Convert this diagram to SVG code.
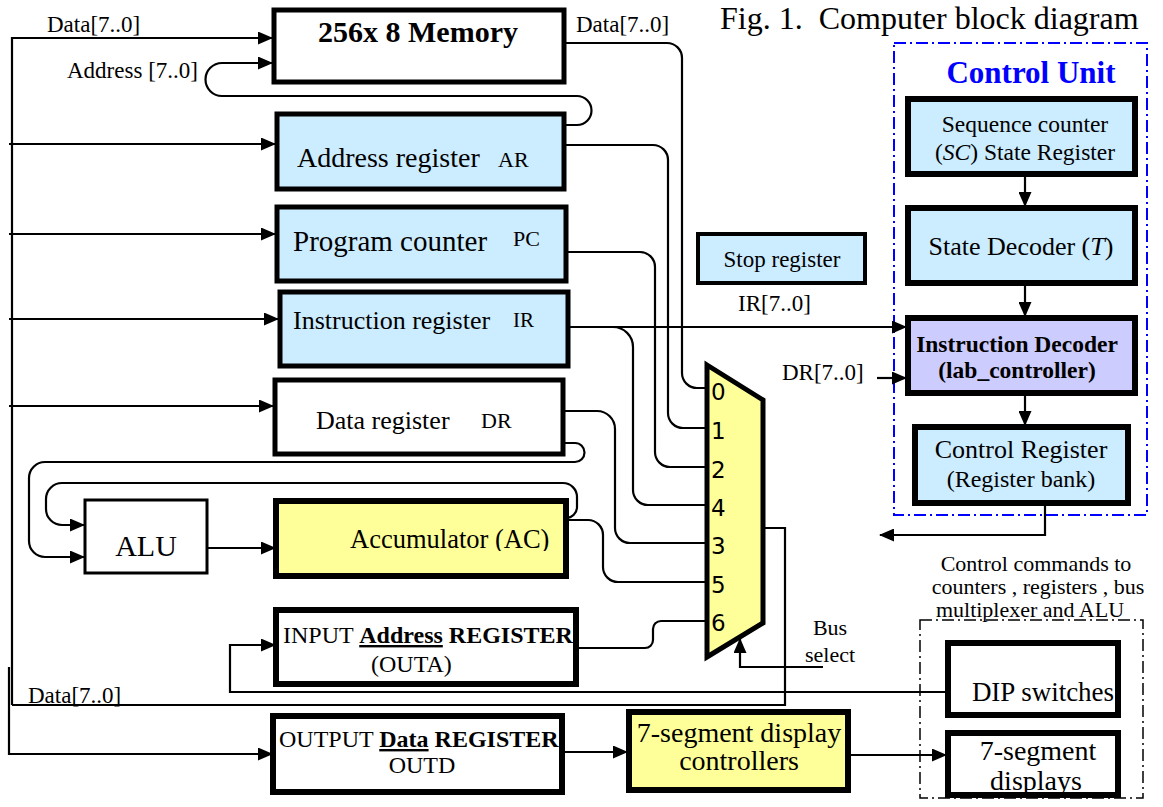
<svg xmlns="http://www.w3.org/2000/svg" width="1163" height="807" viewBox="0 0 1163 807">
  <defs>
    <marker id="arr" viewBox="0 0 15 13" refX="14" refY="6.5" markerWidth="15" markerHeight="13" markerUnits="userSpaceOnUse" orient="auto">
      <path d="M0,0 L15,6.5 L0,13 z" fill="#000"/>
    </marker>
    <clipPath id="irClip"><rect x="285" y="295" width="206" height="60"/></clipPath>
    <clipPath id="acClip"><rect x="280" y="505" width="282" height="46"/></clipPath>
  </defs>
  <style>
    text { font-family: "Liberation Serif", "Times New Roman", serif; fill: #000; }
    .box { stroke: #000; stroke-width: 5; }
    .thick { stroke-width: 6; }
    .blue { fill: #ccecff; }
    .yellow { fill: #ffff99; }
    .lav { fill: #ccccff; }
    .white { fill: #fff; }
    .wire { fill: none; stroke: #000; stroke-width: 2.2; }
    .arrow { marker-end: url(#arr); }
    .mid { text-anchor: middle; }
    .b { font-weight: bold; }
    .digit { font-family: "DejaVu Sans", sans-serif; font-size: 23px; }
  </style>

  <rect x="0" y="0" width="1163" height="807" fill="#fff"/>

  <!-- title -->
  <text x="720" y="29" font-size="32" style="white-space:pre">Fig. 1.  Computer block diagram</text>

  <!-- bus labels -->
  <g id="labels" font-size="23">
    <text x="47" y="32">Data[7..0]</text>
    <text x="67" y="78">Address [7..0]</text>
    <text x="576" y="32">Data[7..0]</text>
    <text x="738" y="311">IR[7..0]</text>
    <text x="782" y="380">DR[7..0]</text>
    <text x="28" y="703">Data[7..0]</text>
    <text x="830" y="635" class="mid" font-size="22">Bus</text>
    <text x="830" y="662" class="mid" font-size="22">select</text>
    <text x="1036" y="571" class="mid" font-size="22">Control commands to</text>
    <text x="1038" y="594" class="mid" font-size="22">counters , registers , bus</text>
    <text x="1030" y="617" class="mid" font-size="22">multiplexer and ALU</text>
  </g>

  <!-- control unit frame and external device frame -->
  <rect id="control-unit-frame" x="894" y="43" width="253" height="472" fill="none" stroke="#0000ff" stroke-width="2" stroke-dasharray="12 4 2 4"/>
  <text x="1031" y="83" class="mid b" font-size="31" style="fill:#0000ff">Control Unit</text>
  <rect id="io-frame" x="920" y="620" width="223" height="178" fill="none" stroke="#000" stroke-width="1.5" stroke-dasharray="12 4 2 4"/>

  <!-- connectors -->
  <g id="connectors" class="wire">
    <path class="arrow" d="M12,705 V38 H272"/>
    <path d="M763,528 H785 V705 H12"/>
    <path class="arrow" d="M9,144 H275"/>
    <path class="arrow" d="M9,234 H275"/>
    <path class="arrow" d="M9,319 H278"/>
    <path class="arrow" d="M9,406 H273"/>
    <path class="arrow" d="M563,125 H577 A14.5,14.5 0 0 0 577,96 H222 A16.5,16.5 0 0 1 222,63 H272"/>
    <path d="M564,43 H667 A15,15 0 0 1 682,58 V373 A15,15 0 0 0 697,388 H707"/>
    <path d="M564,145 H653 A15,15 0 0 1 668,160 V413 A15,15 0 0 0 683,428 H707"/>
    <path d="M566,252 H640 A15,15 0 0 1 655,267 V452 A15,15 0 0 0 670,467 H707"/>
    <path class="arrow" d="M560,327 H906"/>
    <path d="M613,327 A20,20 0 0 1 633,347 V490 A15,15 0 0 0 648,505 H707"/>
    <path d="M563,411 H597 A18,18 0 0 1 615,429 V528 A15,15 0 0 0 630,543 H707"/>
    <path d="M566,520 H588 A15,15 0 0 1 603,535 V567 A15,15 0 0 0 618,582 H707"/>
    <path d="M576,648 H645 A8,8 0 0 0 653,640 V629 A8,8 0 0 1 661,621 H707"/>
    <path class="arrow" d="M563,443 H575 A9.5,9.5 0 0 1 575,462 H45 A16,16 0 0 0 29,478 V541 A16,16 0 0 0 45,557 H84"/>
    <path class="arrow" d="M566,518 A11,11 0 0 0 577,507 V497 A14,14 0 0 0 563,483 H62 A16,16 0 0 0 46,499 V509 A16,16 0 0 0 62,525 H84"/>
    <path class="arrow" d="M207,548 H275"/>
    <path class="arrow" d="M948,692 H230 V645 H275"/>
    <path class="arrow" d="M823,667 H740 V639"/>
    <path class="arrow" d="M877,378 H906"/>
    <path class="arrow" d="M1025,176 V206"/>
    <path class="arrow" d="M1025,285 V316"/>
    <path class="arrow" d="M1025,395 V425"/>
    <path class="arrow" d="M1045,504 V535 H880"/>
    <path class="arrow" d="M9,667 V754 H272"/>
    <path class="arrow" d="M562,752 H627"/>
    <path class="arrow" d="M848,755 H946"/>
  </g>

  <!-- memory -->
  <g id="memory">
    <rect x="274" y="10" width="290" height="72" class="box white"/>
    <text x="418" y="42" class="mid b" font-size="30">256x 8 Memory</text>
  </g>

  <g id="address-register">
    <rect x="277" y="114" width="287" height="75" class="box blue"/>
    <text x="297" y="167" font-size="28">Address register</text>
    <text x="498" y="167" font-size="22">AR</text>
  </g>

  <g id="program-counter">
    <rect x="277" y="207" width="289" height="74" class="box blue"/>
    <text x="293" y="251" font-size="29">Program counter</text>
    <text x="513" y="246" font-size="22">PC</text>
  </g>

  <g id="instruction-register">
    <rect x="280" y="292" width="288" height="74" class="box blue"/>
    <text x="293" y="329" font-size="26" clip-path="url(#irClip)">Instruction register</text>
    <text x="513" y="327" font-size="21">IR</text>
  </g>

  <g id="data-register">
    <rect x="275" y="380" width="288" height="74" class="box white"/>
    <text x="316" y="429" font-size="26">Data register</text>
    <text x="481" y="428" font-size="22">DR</text>
  </g>

  <g id="stop-register">
    <rect x="698" y="234" width="167" height="49" class="box blue" style="stroke-width:4"/>
    <text x="782" y="267" class="mid" font-size="23">Stop register</text>
  </g>

  <g id="alu">
    <rect x="85" y="500" width="122" height="73" class="white" stroke="#000" stroke-width="3"/>
    <text x="146" y="556" class="mid" font-size="30">ALU</text>
  </g>

  <g id="accumulator">
    <rect x="276" y="501" width="290" height="75" class="box thick yellow"/>
    <text x="350" y="548" font-size="26.5" clip-path="url(#acClip)">Accumulator (AC)</text>
  </g>

  <g id="input-address-register">
    <rect x="276" y="610" width="300" height="74" class="box thick white"/>
    <text x="283" y="643" font-size="24">INPUT <tspan class="b" text-decoration="underline">Address</tspan><tspan class="b"> REGISTER</tspan></text>
    <text x="371" y="672" font-size="24">(OUTA)</text>
  </g>

  <g id="output-data-register">
    <rect x="273" y="716" width="289" height="76" class="box thick white"/>
    <text x="279" y="747" font-size="24">OUTPUT <tspan class="b" text-decoration="underline">Data</tspan><tspan class="b"> REGISTER</tspan></text>
    <text x="422" y="773" class="mid" font-size="24">OUTD</text>
  </g>

  <g id="seven-segment-controllers">
    <rect x="629" y="712" width="219" height="78" class="box thick yellow"/>
    <text x="739" y="742" class="mid" font-size="28">7-segment display</text>
    <text x="739" y="770" class="mid" font-size="28">controllers</text>
  </g>

  <!-- bus multiplexer -->
  <g id="bus-mux">
    <path d="M707,365 L763,400 L763,623 L707,657 Z" class="yellow" stroke="#000" stroke-width="5" stroke-linejoin="miter"/>
    <text x="711" y="400" class="digit">0</text>
    <text x="711" y="439" class="digit">1</text>
    <text x="711" y="478" class="digit">2</text>
    <text x="711" y="516" class="digit">4</text>
    <text x="711" y="554" class="digit">3</text>
    <text x="711" y="593" class="digit">5</text>
    <text x="711" y="631" class="digit">6</text>
  </g>

  <!-- control unit blocks -->
  <g id="sequence-counter">
    <rect x="908" y="99" width="227" height="75" class="box thick blue"/>
    <text x="1025" y="132" class="mid" font-size="23.5">Sequence counter</text>
    <text x="1025" y="160" class="mid" font-size="23.5">(<tspan font-style="italic">SC</tspan>) State Register</text>
  </g>

  <g id="state-decoder">
    <rect x="908" y="208" width="227" height="75" class="box thick blue"/>
    <text x="1021" y="255" class="mid" font-size="26">State Decoder (<tspan font-style="italic">T</tspan>)</text>
  </g>

  <g id="instruction-decoder">
    <rect x="908" y="318" width="227" height="75" class="box thick lav"/>
    <text x="1017" y="352" class="mid b" font-size="23.5">Instruction Decoder</text>
    <text x="1017" y="378" class="mid b" font-size="23.5">(lab_controller)</text>
  </g>

  <g id="control-register">
    <rect x="915" y="427" width="213" height="76" class="box thick blue"/>
    <text x="1021" y="458" class="mid" font-size="26">Control Register</text>
    <text x="1021" y="487" class="mid" font-size="24">(Register bank)</text>
  </g>

  <!-- board I/O -->
  <g id="dip-switches">
    <rect x="948" y="643" width="170" height="72" class="box thick white"/>
    <text x="1043" y="701" class="mid" font-size="27">DIP switches</text>
  </g>

  <g id="seven-segment-displays">
    <rect x="948" y="733" width="170" height="62" class="white"/>
    <text x="1038" y="760" class="mid" font-size="28">7-segment</text>
    <text x="1036" y="790" class="mid" font-size="28">displays</text>
    <rect x="948" y="733" width="170" height="62" fill="none" class="box thick"/>
  </g>
</svg>
